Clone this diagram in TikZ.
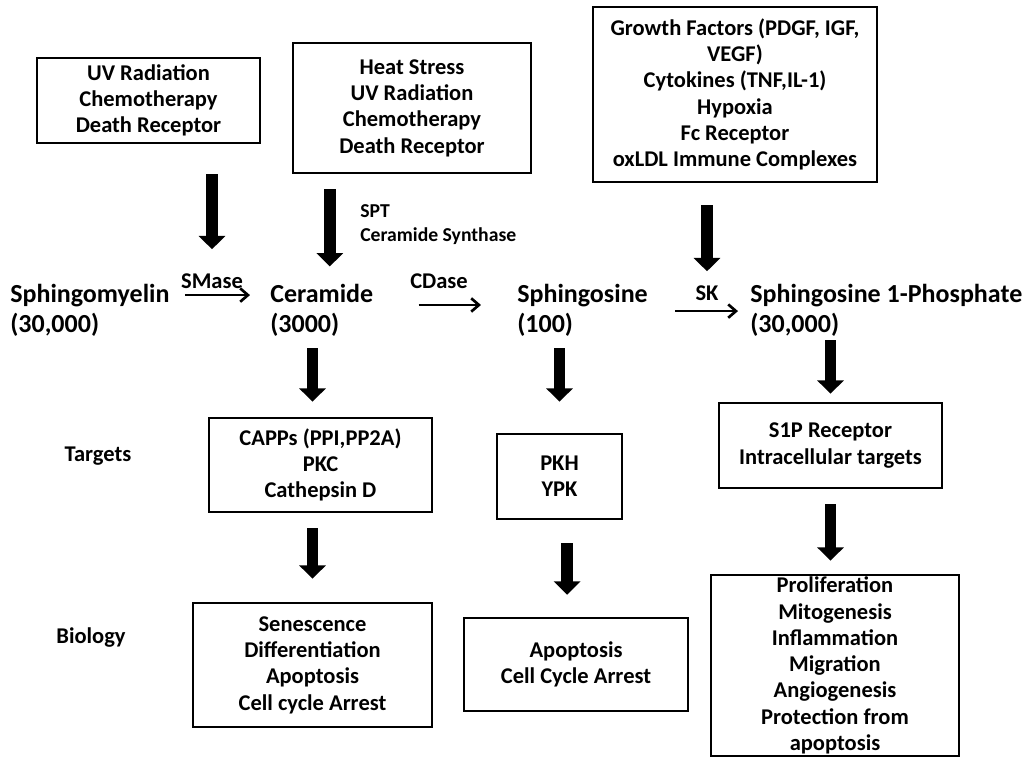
\documentclass[tikz,border=0pt]{standalone}
\usepackage{fontspec}
\setmainfont{Carlito}
\usetikzlibrary{arrows.meta}

\begin{document}
\begin{tikzpicture}[x=0.025cm, y=-0.025cm,
    box/.style={draw, line width=1.8pt, align=center, inner sep=0pt, font=\fontsize{16}{18.7}\selectfont\bfseries},
    lbl/.style={anchor=base west, inner sep=0pt, font=\fontsize{18.5}{21}\selectfont\bfseries},
    enz/.style={inner sep=0pt, font=\fontsize{16}{18}\selectfont\bfseries},
    block/.style={line width=8.5pt, -{Triangle[width=18.5pt,length=9.5pt]}},
    thin/.style={line width=1.9pt, -{Straight Barb[length=5.5pt,width=9.5pt]}}]
    \useasboundingbox (0,0) rectangle (1033,758);

    \node[box, minimum width=5.575cm, minimum height=2.125cm] (box1) at (148.5,100.5) {UV Radiation\\Chemotherapy\\Death Receptor};
    \node[box, minimum width=5.95cm, minimum height=3.25cm] (box2) at (412,108) {Heat Stress\\UV Radiation\\Chemotherapy\\Death Receptor};
    \node[box, minimum width=7.1cm, minimum height=4.375cm] (box3) at (735,94.5) {Growth Factors (PDGF, IGF,\\VEGF)\\Cytokines (TNF,IL-1)\\Hypoxia\\Fc Receptor\\oxLDL Immune Complexes};

    \node[lbl] (sm) at (10,302) {Sphingomyelin};
    \node[lbl] (smn) at (10,332) {(30,000)};
    \node[lbl] (cer) at (270,302) {Ceramide};
    \node[lbl] (cern) at (270,332) {(3000)};
    \node[lbl] (sph) at (517,302) {Sphingosine};
    \node[lbl] (sphn) at (517,332) {(100)};
    \node[lbl] (s1p) at (750,302) {Sphingosine 1-Phosphate};
    \node[lbl] (s1pn) at (750,332) {(30,000)};

    \node[enz] (smase) at (212,281) {SMase};
    \node[enz] (cdase) at (439,281) {CDase};
    \node[enz] (sk) at (707,293) {SK};
    \node[enz, anchor=west, align=left, font=\fontsize{14}{17}\selectfont\bfseries] (spt) at (360,225) {SPT\\Ceramide Synthase};

    \node[enz] (targets) at (98,456) {Targets};
    \node[enz] (biology) at (91,638) {Biology};

    \node[box, minimum width=5.575cm, minimum height=2.35cm] (capps) at (320.5,465) {CAPPs (PPI,PP2A)\\PKC\\Cathepsin D};
    \node[box, minimum width=5.975cm, minimum height=3.1cm] (senes) at (312.5,665) {Senescence\\Differentiation\\Apoptosis\\Cell cycle Arrest};
    \node[box, minimum width=3.125cm, minimum height=2.125cm] (pkh) at (559.5,476.5) {PKH\\YPK};
    \node[box, minimum width=5.6cm, minimum height=2.325cm] (apop) at (576,664.5) {Apoptosis\\Cell Cycle Arrest};
    \node[box, minimum width=5.575cm, minimum height=2.125cm] (s1pr) at (830.5,445.5) {S1P Receptor\\Intracellular targets};
    \node[box, minimum width=6.2cm, minimum height=4.525cm] (prol) at (835,665.5) {Proliferation\\Mitogenesis\\Inflammation\\Migration\\Angiogenesis\\Protection from\\apoptosis};

    \draw[thin, shorten <=0.375cm, shorten >=0.5cm] (sm.east) -- (sm.east -| cer.west);
    \draw[thin, shorten <=1.125cm, shorten >=0.9cm] ([yshift=-0.3cm]cer.east) -- ([yshift=-0.3cm]cer.east -| sph.west);
    \draw[thin, shorten <=0.675cm, shorten >=0.3cm] ([yshift=-0.4cm]sph.east) -- ([yshift=-0.4cm]sph.east -| s1p.west);

    \draw[block, shorten <=0.75cm, shorten >=0.6cm] (smase.north |- box1.south) -- (smase.north);
    \draw[block, shorten <=0.375cm, shorten >=0.425cm] ([xshift=0.2cm]cer.north |- box2.south) -- ([xshift=0.2cm]cer.north);
    \draw[block, shorten <=0.55cm, shorten >=0.35cm] (sk.north |- box3.south) -- (sk.north);

    \draw[block, shorten <=0.3cm, shorten >=0.375cm] (senes.north |- cern.south) -- (senes.north |- capps.north);
    \draw[block, shorten <=0.375cm, shorten >=0.575cm] (capps.south -| senes.north) -- (senes.north);
    \draw[block, shorten <=0.3cm, shorten >=0.775cm] (pkh.north |- sphn.south) -- (pkh.north);
    \draw[block, shorten <=0.575cm, shorten >=0.55cm] ([xshift=0.19cm]pkh.south) -- ([xshift=0.19cm]pkh.south |- apop.north);
    \draw[block, shorten <=0.1cm, shorten >=0.2cm] (s1pr.north |- s1pn.south) -- (s1pr.north);
    \draw[block, shorten <=0.375cm, shorten >=0.325cm] (s1pr.south) -- (s1pr.south |- prol.north);
\end{tikzpicture}
\end{document}
